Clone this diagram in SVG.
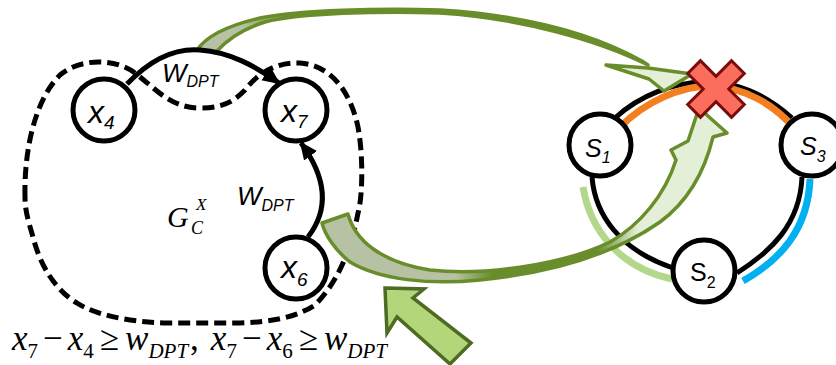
<svg xmlns="http://www.w3.org/2000/svg" width="836" height="365" viewBox="0 0 836 365">
<style>
.nd{fill:#fff;stroke:#000;stroke-width:5}
.ln{fill:none;stroke:#000;stroke-width:5}
.dash{fill:none;stroke:#000;stroke-width:5;stroke-dasharray:12 6}
.lbl{font-family:'Liberation Sans',Arial,sans-serif;font-style:italic;font-size:32px;fill:#000}
.sub{font-size:19px}
.w{font-family:'Liberation Sans',Arial,sans-serif;font-style:italic;font-size:26px;fill:#000}
.wsub{font-size:16px}
.sl{font-family:'Liberation Sans',Arial,sans-serif;font-size:25px;fill:#000}
.ser{font-family:'Liberation Serif','Times New Roman',serif;fill:#000}
.rib{stroke:#6a8d2b;stroke-width:3.5;stroke-linejoin:round}
</style>
<defs>
<marker id="ah" markerUnits="userSpaceOnUse" markerWidth="20" markerHeight="20" viewBox="0 0 20 20" refX="16" refY="10" orient="auto">
<path d="M0,2 L18,10 L0,18 Z" fill="#000"/>
</marker>
<linearGradient id="gA" x1="0" y1="0" x2="1" y2="0">
<stop offset="0" stop-color="#b6c2a3"/>
<stop offset="0.1" stop-color="#b6c2a3"/>
<stop offset="0.2" stop-color="#6a8d2b"/>
<stop offset="1" stop-color="#6a8d2b"/>
</linearGradient>
<linearGradient id="gB" x1="0" y1="0" x2="1" y2="0">
<stop offset="0" stop-color="#b6c2a3"/>
<stop offset="0.33" stop-color="#b6c2a3"/>
<stop offset="0.42" stop-color="#6a8d2b"/>
<stop offset="0.68" stop-color="#6a8d2b"/>
<stop offset="0.78" stop-color="#e4efd7"/>
<stop offset="1" stop-color="#e4efd7"/>
</linearGradient>
</defs>

<g id="ring">
<path class="ln" d="M615,118 C640,95 675,82 705,82 C740,82 770,98 792,118"/>
<path d="M620,127 C645,102 680,86 710,86 C745,87 775,105 796,130" fill="none" stroke="#f47f20" stroke-width="7"/>
<path class="ln" d="M592,177 C595,215 620,250 673,268"/>
<path d="M583,187 C590,230 620,268 672,279" fill="none" stroke="#b4d88b" stroke-width="7"/>
<path class="ln" d="M737,273 C770,252 800,225 802,177"/>
<path d="M743,281 C780,260 808,230 810,179" fill="none" stroke="#00b0f0" stroke-width="7"/>
</g>

<g id="graph-boundary">
<path class="dash" d="M25,197 C24,150 35,100 60,75 C80,58 115,58 135,73 C155,88 170,108 200,108 C225,108 235,100 245,90 C260,70 280,62 300,63 C330,65 350,90 358,127 C364,160 362,200 358,213 C352,245 340,280 315,305 C295,318 270,322 240,323 L167,323 C130,322 95,315 77,303 C55,290 40,265 33,237 C28,220 25,210 25,197 Z"/>
</g>

<g id="ribbons">
<path class="rib" fill="url(#gA)" d="M197,50 C205,38 225,26 260,18 C300,10 380,8 440,10 C520,15 590,32 642,61 L648,65 C598,40 520,18 440,13 C380,11 300,13 265,22 C240,30 225,42 216,52 Z"/>
<path class="rib" fill="#e4efd7" d="M606,65 L648,68 L692,74 L664,91 L649,79 Z"/>
<path class="rib" fill="url(#gB)" d="M348,214 C355,240 380,262 430,270 C480,276 560,266 610,242 C640,225 665,195 676,160 L671,150 L688,141 L699,108 L727,133 L713,137 C705,170 690,200 660,222 C620,250 560,272 480,280 C430,285 380,280 350,262 C335,250 325,235 322,223 Z"/>
<path fill="#b3d67b" stroke="#4f6a22" stroke-width="3.5" stroke-linejoin="miter" d="M385,288 L424,289 L413,298 L471,343 L450,364 L397,317 L387,333 Z"/>
</g>

<g id="connectors">
<path class="ln" d="M127,84 C150,60 175,48 200,50 C230,52 255,66 279,83" marker-end="url(#ah)"/>
<path class="ln" d="M308,237 C325,215 332,185 301,143" marker-end="url(#ah)"/>
</g>

<g id="fail-mark">
<path fill="#fb6e5e" stroke="#7a0c0c" stroke-width="3" transform="translate(716,89) rotate(45)" d="M-9,-31 L9,-31 L9,-9 L31,-9 L31,9 L9,9 L9,31 L-9,31 L-9,9 L-31,9 L-31,-9 L-9,-9 Z"/>
</g>

<g id="node-x4">
<circle class="nd" cx="104" cy="110" r="31"/>
<text class="lbl" x="88" y="123">x<tspan class="sub" dy="6">4</tspan></text>
</g>
<g id="node-x7">
<circle class="nd" cx="296" cy="110" r="31"/>
<text class="lbl" x="281" y="122">x<tspan class="sub" dy="6">7</tspan></text>
</g>
<g id="node-x6">
<circle class="nd" cx="296" cy="268" r="31"/>
<text class="lbl" x="281" y="278">x<tspan class="sub" dy="8">6</tspan></text>
</g>
<g id="node-s1">
<circle class="nd" cx="600" cy="145" r="31"/>
<text class="sl" x="585" y="157" font-style="italic">S<tspan font-size="16" dy="6">1</tspan></text>
</g>
<g id="node-s2">
<circle class="nd" cx="704" cy="271" r="31"/>
<text class="sl" x="690" y="281">S<tspan font-size="16" dy="7">2</tspan></text>
</g>
<g id="node-s3">
<circle class="nd" cx="812" cy="145" r="31"/>
<text class="sl" x="800" y="155" font-style="italic">S<tspan font-size="16" dy="7">3</tspan></text>
</g>

<g id="labels">
<text class="w" x="162" y="82">W<tspan class="wsub" dy="5">DPT</tspan></text>
<text class="w" x="237" y="205">W<tspan class="wsub" dy="6">DPT</tspan></text>
<text class="ser" x="167" y="227" font-size="30" font-style="italic">G</text>
<text class="ser" x="191" y="234" font-size="18" font-style="italic">C</text>
<text class="ser" x="196" y="210" font-size="17" font-style="italic">X</text>
<text class="ser" x="12" y="350" font-size="35"><tspan font-style="italic">x</tspan><tspan font-size="21" dy="8">7</tspan><tspan dx="5" dy="-8">−</tspan><tspan dx="5" font-style="italic">x</tspan><tspan font-size="21" dy="8">4</tspan><tspan dx="6" dy="-8">≥</tspan><tspan dx="6" font-style="italic">w</tspan><tspan font-size="21" font-style="italic" dy="8">DPT</tspan><tspan dx="2" dy="-8">,</tspan><tspan dx="12" font-style="italic">x</tspan><tspan font-size="21" dy="8">7</tspan><tspan dx="5" dy="-8">−</tspan><tspan dx="5" font-style="italic">x</tspan><tspan font-size="21" dy="8">6</tspan><tspan dx="6" dy="-8">≥</tspan><tspan dx="6" font-style="italic">w</tspan><tspan font-size="21" font-style="italic" dy="8">DPT</tspan></text>
</g>
</svg>
